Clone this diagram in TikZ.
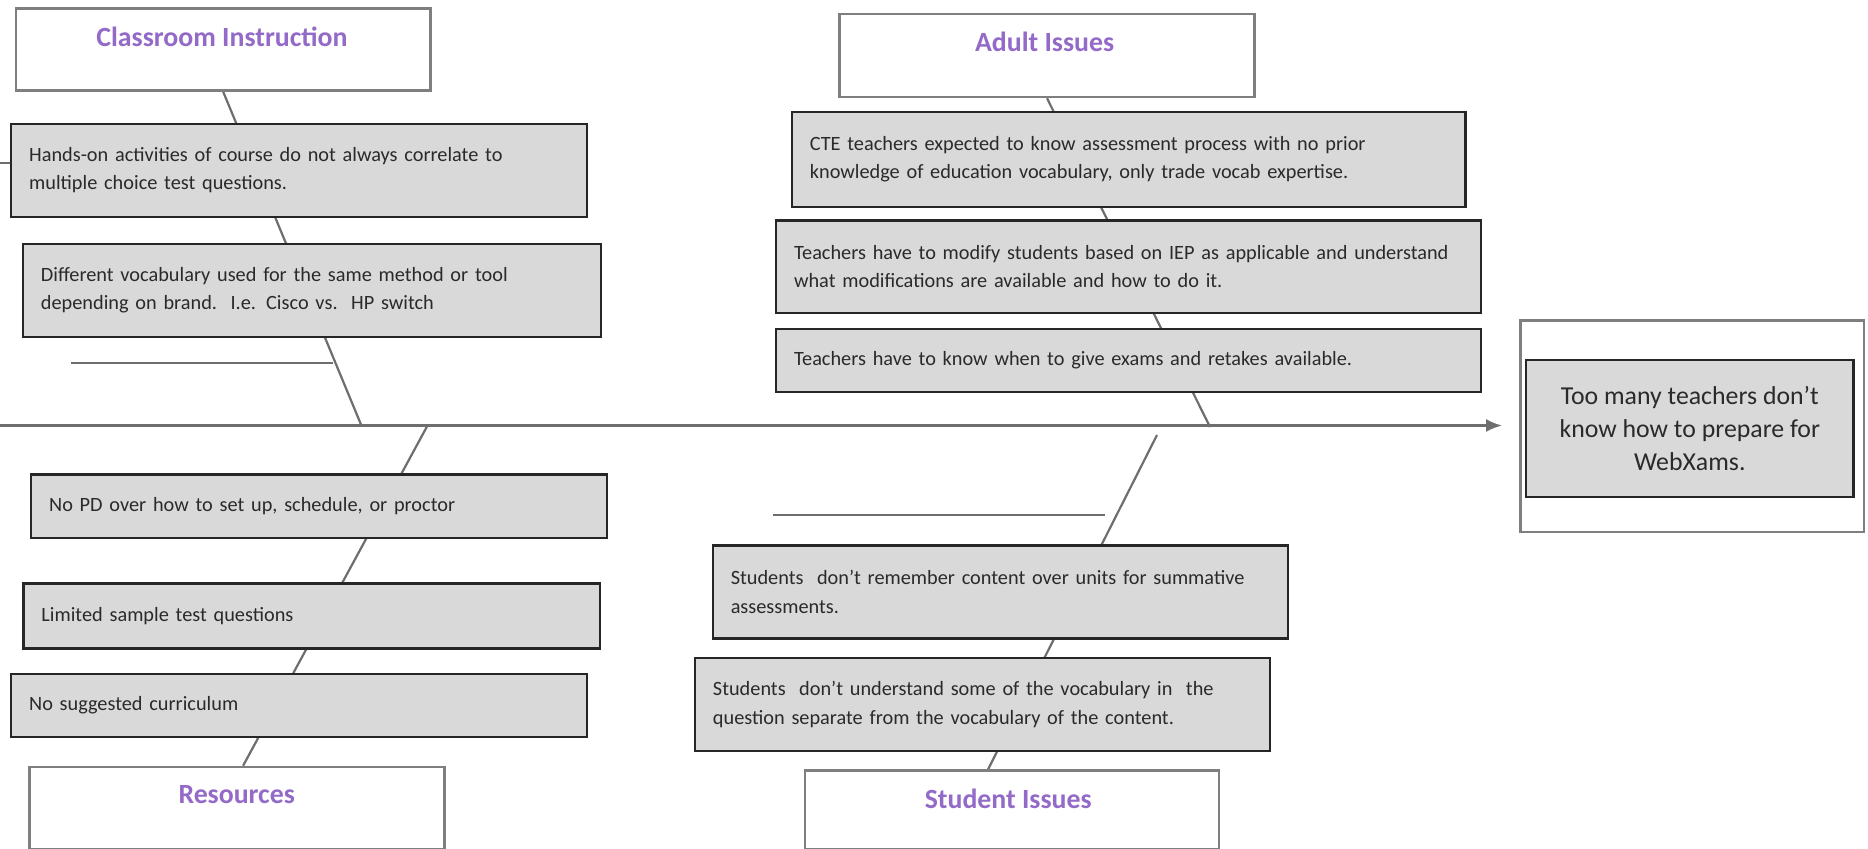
\documentclass[tikz,border=0pt]{standalone}
\usepackage{fontspec}
\setmainfont{Carlito}
\usetikzlibrary{arrows.meta}
\definecolor{causefill}{HTML}{D9D9D9}
\definecolor{causeline}{HTML}{262626}
\definecolor{catline}{HTML}{7F7F7F}
\definecolor{boneclr}{HTML}{6E6E6E}
\definecolor{titlepurple}{RGB}{148,106,200}
\definecolor{txt}{HTML}{2A2A2A}
\pgfdeclarelayer{back}
\pgfdeclarelayer{bones}
\pgfsetlayers{back,bones,main}
\begin{document}
\begin{tikzpicture}[x=1bp,y=-1bp,
  cause/.style={draw=causeline, line width=2.3bp, fill=causefill, anchor=north west,
    inner xsep=18bp, inner ysep=0bp, align=left, text=txt,
    font=\fontsize{20.3bp}{28.5bp}\selectfont},
  catbox/.style={draw=catline, line width=2.6bp, fill=white, anchor=north west, inner sep=0bp},
  cattitle/.style={text=titlepurple, inner sep=0bp,
    font=\fontsize{27.8bp}{33bp}\selectfont\bfseries},
  boneline/.style={draw=boneclr, line width=2.2bp},
]
\useasboundingbox (0,0) rectangle (1868,849);
\begin{pgfonlayer}{back}
  \fill[white] (0,0) rectangle (1868,849);
\end{pgfonlayer}

% category boxes
\node[catbox, minimum width=414.9bp, minimum height=82bp] (ci) at (14.5,7.3) {};
\node[cattitle] (citxt) at (222,36.7) {Classroom Instruction};
\node[catbox, minimum width=415.1bp, minimum height=83bp] (ai) at (838.2,12.7) {};
\node[cattitle] (aitxt) at (1044.6,41.7) {Adult Issues};
\node[catbox, minimum width=415bp, minimum height=82bp] (res) at (28.3,765.7) {};
\node[cattitle] (restxt) at (236.7,794.3) {Resources};
\node[catbox, minimum width=414bp, minimum height=78.5bp] (si) at (803.8,769.3) {};
\node[cattitle] (sitxt) at (1008.2,799.3) {Student Issues};

% cause boxes
\node[cause, text width=539.7bp, minimum height=93.2bp] (c1) at (10,122.5)
  {\mbox{Hands-on activities of course do not always correlate to}\\\mbox{multiple choice test questions.}};
\node[cause, text width=542.2bp, minimum height=92.8bp] (c2) at (21.8,242.7)
  {\mbox{Different vocabulary used for the same method or tool}\\\mbox{depending on brand.\ \ I.e. Cisco vs.\ \ HP switch}};
\node[cause, text width=540bp, minimum height=63.4bp] (r1) at (30,473.3)
  {\mbox{No PD over how to set up, schedule, or proctor}};
\node[cause, text width=540.7bp, minimum height=65bp] (r2) at (22.3,582.3)
  {\mbox{Limited sample test questions}};
\node[cause, text width=539.5bp, minimum height=63.3bp] (r3) at (10,672.7)
  {\mbox{No suggested curriculum}};
\node[cause, text width=637.6bp, minimum height=94.5bp] (a1) at (790.7,111)
  {\mbox{CTE teachers expected to know assessment process with no prior}\\\mbox{knowledge of education vocabulary, only trade vocab expertise.}};
\node[cause, text width=669.1bp, minimum height=92.4bp] (a2) at (774.9,219.3)
  {\mbox{Teachers have to modify students based on IEP as applicable and understand}\\\mbox{what modifications are available and how to do it.}};
\node[cause, text width=669.1bp, minimum height=63bp] (a3) at (774.9,327.7)
  {\mbox{Teachers have to know when to give exams and retakes available.}};
\node[cause, text width=539.2bp, minimum height=93.1bp] (s1) at (711.6,544.2)
  {\mbox{Students\ \ don’t remember content over units for summative}\\\mbox{assessments.}};
\node[cause, text width=539.3bp, minimum height=92.6bp] (s2) at (693.8,657)
  {\mbox{Students\ \ don’t understand some of the vocabulary in\ \ the}\\\mbox{question separate from the vocabulary of the content.}};

% effect
\node[draw=catline, line width=2.6bp, fill=white, anchor=north west, inner sep=0bp,
  minimum width=343.4bp, minimum height=211.4bp] (eff) at (1519.3,319.3) {};
\node[draw=causeline, line width=2.3bp, fill=causefill, anchor=north west, inner sep=0bp,
  minimum width=327.3bp, minimum height=136.7bp, align=center, text=txt,
  font=\fontsize{25.8bp}{33bp}\selectfont] (effin) at (1525,359)
  {Too many teachers don’t\\know how to prepare for\\WebXams.};

% spine, bones and stubs
\coordinate (spL) at (0,425.5);
\coordinate (spR) at (1502,425.5);
\coordinate (j1) at (361.6,426);
\coordinate (j2) at (1210,427);
\coordinate (j3) at (427,426.5);
\coordinate (j4) at (1157,435);
\coordinate (st1a) at (70.8,362.7);
\coordinate (st1b) at (333,362.7);
\coordinate (st2a) at (772.9,515);
\coordinate (st2b) at (1105,515);
\coordinate (st3a) at (0,163.3);
\coordinate (st3b) at (10,163.3);
\begin{pgfonlayer}{bones}
  \draw[boneline, -{Latex[length=16bp,width=13bp]}] (spL) -- (spR);
  \draw[boneline] (ci.south) -- (j1);
  \draw[boneline] (ai.south) -- (j2);
  \draw[boneline] (j3) -- ([xshift=6bp]res.north);
  \draw[boneline] (j4) -- ([xshift=-24bp]si.north);
  \draw[boneline] (st1a) -- (st1b);
  \draw[boneline] (st2a) -- (st2b);
  \draw[boneline] (st3a) -- (st3b);
\end{pgfonlayer}
\end{tikzpicture}
\end{document}
